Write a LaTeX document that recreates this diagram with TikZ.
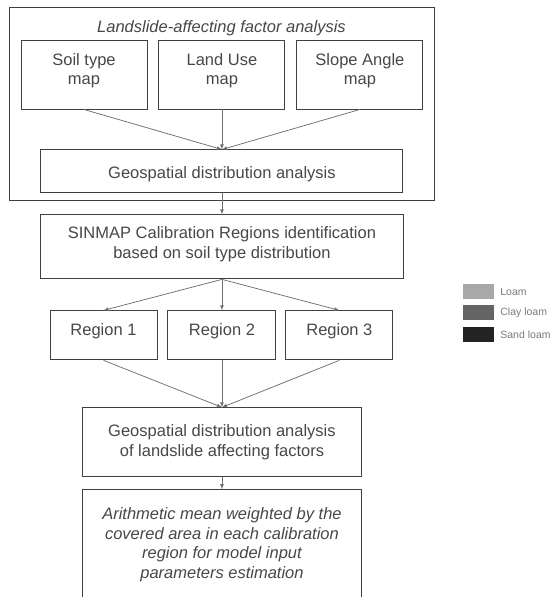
\documentclass[tikz,border=0pt]{standalone}
\usepackage{fontspec}
\setmainfont{Liberation Sans}
\usepackage{tikz}
\usetikzlibrary{positioning}
\definecolor{boxline}{HTML}{404040}
\definecolor{linkline}{HTML}{707070}
\definecolor{inkgray}{HTML}{474747}
\definecolor{keyink}{HTML}{7A7A7A}
\definecolor{loamgray}{HTML}{A8A8A8}
\definecolor{claygray}{HTML}{656565}
\definecolor{sandgray}{HTML}{232323}

\begin{document}
\begin{tikzpicture}[x=1pt, y=1pt, node distance=10pt,
    flowbox/.style={draw=boxline, line width=0.95pt, inner sep=0pt, align=center,
      text=inkgray, font=\fontsize{16.5}{19.5}\selectfont},
    link/.style={draw=linkline, line width=0.75pt, -latex},
    keybox/.style={minimum width=31pt, minimum height=15pt, inner sep=0pt},
    keytext/.style={right=6pt of #1, inner sep=0pt, text=keyink,
      font=\fontsize{10.5}{12}\selectfont}]
  \useasboundingbox (0,0) rectangle (552,-597);

  % factor analysis group
  \node(frame) [draw=boxline, line width=0.95pt, minimum width=425pt, minimum height=193pt] at (221.5,-103.5) {};
  \node(title) [anchor=base, inner sep=0pt, text=inkgray, font=\fontsize{16.5}{19.5}\selectfont\itshape] at (221.5,-32.3) {Landslide-affecting factor analysis};
  \node(soil) [flowbox, minimum width=126pt, minimum height=69pt, text depth=11pt] at (84,-74.5) {Soil type\\map};
  \node(land) [flowbox, minimum width=126pt, minimum height=69pt, text depth=11pt, right=11pt of soil] {Land Use\\map};
  \node(slope) [flowbox, minimum width=126pt, minimum height=69pt, text depth=11pt, right=11pt of land] {Slope Angle\\map};
  \node(geo) [flowbox, minimum width=362pt, minimum height=43pt, text height=18pt, below=40pt of land] {Geospatial distribution analysis};

  % calibration regions
  \node(sinmap) [flowbox, minimum width=363pt, minimum height=64pt, text depth=9pt, below=21pt of geo] {SINMAP Calibration Regions identification\\based on soil type distribution};
  \node(reg2) [flowbox, minimum width=108pt, minimum height=49pt, text depth=11.5pt, below=31pt of sinmap] {Region 2};
  \node(reg1) [flowbox, minimum width=107pt, minimum height=49pt, text depth=11.5pt, left=10pt of reg2] {Region 1};
  \node(reg3) [flowbox, minimum width=107pt, minimum height=49pt, text depth=11.5pt, right=9pt of reg2] {Region 3};

  \node(geotwo) [flowbox, minimum width=279pt, minimum height=69pt, below=47pt of reg2] {Geospatial distribution analysis\\of landslide affecting factors};
  \node(mean) [flowbox, minimum width=279pt, inner ysep=18pt, text depth=100pt, below=12pt of geotwo, font=\fontsize{16.5}{19.5}\selectfont\itshape] {Arithmetic mean weighted by the\\covered area in each calibration\\region for model input\\parameters estimation};

  \draw[link] (soil.south) -- (geo.north);
  \draw[link] (land.south) -- (geo.north);
  \draw[link] (slope.south) -- (geo.north);
  \draw[link] (geo.south) -- (sinmap.north);
  \draw[link] (sinmap.south) -- (reg1.north);
  \draw[link] (sinmap.south) -- (reg2.north);
  \draw[link] (sinmap.south) -- (reg3.north);
  \draw[link] (reg1.south) -- (geotwo.north);
  \draw[link] (reg2.south) -- (geotwo.north);
  \draw[link] (reg3.south) -- (geotwo.north);
  \draw[link] (geotwo.south) -- (mean.north);

  % soil legend
  \node(loamkey) [keybox, fill=loamgray] at (478.5,-291.5) {};
  \node(claykey) [keybox, fill=claygray, below=6pt of loamkey] {};
  \node(sandkey) [keybox, fill=sandgray, below=6pt of claykey] {};
  \node(loamtext) [keytext=loamkey] {Loam};
  \node(claytext) [keytext=claykey] {Clay loam};
  \node(sandtext) [keytext=sandkey] {Sand loam};
\end{tikzpicture}
\end{document}
